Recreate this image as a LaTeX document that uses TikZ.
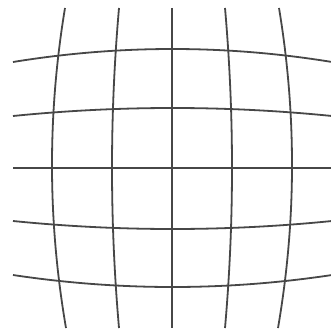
\documentclass[tikz,border=0pt]{standalone}
\begin{document}
\begin{tikzpicture}[x=1pt,y=-1pt,gridline/.style={draw=black!72,line width=1.8pt}]
\useasboundingbox[fill=white] (0,0) rectangle (331,334);
% vertical curves (parabolic arcs as cubic Beziers)
\draw[gridline] (65,8) .. controls (47.33,114.67) and (47.67,221.33) .. (66,328);
\draw[gridline] (119,8) .. controls (109.67,114.67) and (109.67,221.33) .. (119,328);
\draw[gridline] (172,8) -- (172,328);
\draw[gridline] (225,8) .. controls (234.33,114.67) and (234.33,221.33) .. (225,328);
\draw[gridline] (279,8) .. controls (296.67,114.67) and (296.33,221.33) .. (278,328);
% horizontal curves
\draw[gridline] (13,62) .. controls (119.33,44.67) and (225.67,44.67) .. (332,62);
\draw[gridline] (13,116) .. controls (119.33,105.33) and (225.67,105.33) .. (332,116);
\draw[gridline] (13,168) -- (332,168);
\draw[gridline] (13,221) .. controls (119.33,231.67) and (225.67,231.67) .. (332,221);
\draw[gridline] (13,275) .. controls (119.33,291) and (225.67,291) .. (332,275);
\end{tikzpicture}
\end{document}
